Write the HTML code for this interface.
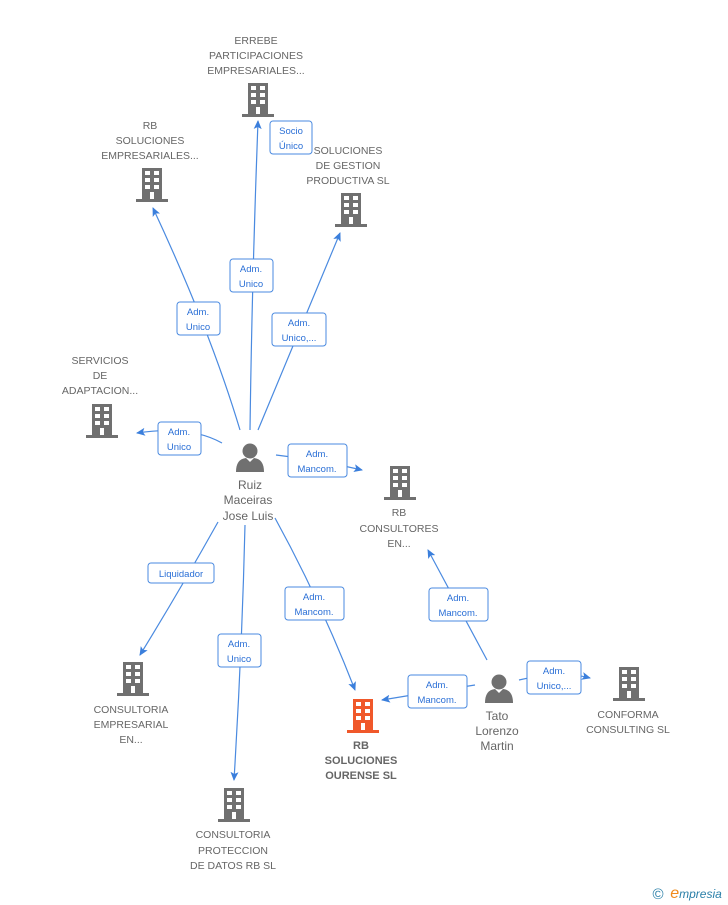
<!DOCTYPE html>
<html><head><meta charset="utf-8"><style>
body{margin:0;background:#fff;width:728px;height:905px;overflow:hidden}
svg{display:block}
text{font-family:"Liberation Sans",sans-serif;font-size:10.5px;fill:#666;text-anchor:middle}
.l{font-size:9.5px;fill:#2a6fd6}
.b{font-weight:bold;font-size:11px}
</style></head><body>
<svg width="728" height="905" viewBox="0 0 728 905">
<defs>
<g id="bld"><rect x="-10" y="-17" width="20" height="31"/><rect x="-16" y="14" width="32" height="3"/></g>
<g id="win" fill="#fff"><rect x="-7" y="-14" width="5" height="4"/><rect x="2" y="-14" width="5" height="4"/><rect x="-7" y="-7" width="5" height="4"/><rect x="2" y="-7" width="5" height="4"/><rect x="-7" y="0" width="5" height="4"/><rect x="2" y="0" width="5" height="4"/><rect x="-2" y="7" width="4" height="7"/></g>
<g id="per" fill="#707070"><circle cx="0" cy="-8" r="7.5"/><path d="M-14 13 Q-14 0 -4 -1 L0 3 L4 -1 Q14 0 14 13 Z"/></g>
<marker id="a" markerWidth="10" markerHeight="10" refX="8" refY="4" orient="auto" markerUnits="userSpaceOnUse"><path d="M0 0 L9 4 L0 8 L2 4Z" fill="#3b7fdc"/></marker>
</defs>
<g stroke="#4a8ae0" stroke-width="1.2" fill="none" marker-end="url(#a)">
<path d="M250 430 Q252 280 258 121"/>
<path d="M240 430 Q210 330 153 208"/>
<path d="M258 430 Q300 330 340 233"/>
<path d="M222 443 Q190 425 137 433"/>
<path d="M276 455 Q320 460 362 470"/>
<path d="M218 522 Q180 590 140 655"/>
<path d="M245 525 Q242 650 234 780"/>
<path d="M275 518 Q320 600 355 690"/>
<path d="M487 660 Q460 610 428 550"/>
<path d="M475 685 Q430 692 382 700"/>
<path d="M519 680 Q560 670 590 678"/>
</g>
<g fill="#fff" stroke="#4a8ae0" stroke-width="1">
<rect x="270" y="121" width="42" height="33" rx="3"/>
<rect x="230" y="259" width="43" height="33" rx="3"/>
<rect x="177" y="302" width="43" height="33" rx="3"/>
<rect x="272" y="313" width="54" height="33" rx="3"/>
<rect x="158" y="422" width="43" height="33" rx="3"/>
<rect x="288" y="444" width="59" height="33" rx="3"/>
<rect x="148" y="563" width="66" height="20" rx="3"/>
<rect x="218" y="634" width="43" height="33" rx="3"/>
<rect x="285" y="587" width="59" height="33" rx="3"/>
<rect x="429" y="588" width="59" height="33" rx="3"/>
<rect x="408" y="675" width="59" height="33" rx="3"/>
<rect x="527" y="661" width="54" height="33" rx="3"/>
</g>
<g class="l">
<text class="l" x="291" y="134">Socio</text><text class="l" x="291" y="149">Único</text>
<text class="l" x="251" y="272">Adm.</text><text class="l" x="251" y="287">Unico</text>
<text class="l" x="198" y="315">Adm.</text><text class="l" x="198" y="330">Unico</text>
<text class="l" x="299" y="326">Adm.</text><text class="l" x="299" y="341">Unico,...</text>
<text class="l" x="179" y="435">Adm.</text><text class="l" x="179" y="450">Unico</text>
<text class="l" x="317" y="457">Adm.</text><text class="l" x="317" y="472">Mancom.</text>
<text class="l" x="181" y="577">Liquidador</text>
<text class="l" x="239" y="647">Adm.</text><text class="l" x="239" y="662">Unico</text>
<text class="l" x="314" y="600">Adm.</text><text class="l" x="314" y="615">Mancom.</text>
<text class="l" x="458" y="601">Adm.</text><text class="l" x="458" y="616">Mancom.</text>
<text class="l" x="437" y="688">Adm.</text><text class="l" x="437" y="703">Mancom.</text>
<text class="l" x="554" y="674">Adm.</text><text class="l" x="554" y="689">Unico,...</text>
</g>
<g fill="#707070">
<use href="#bld" x="258" y="100"/><use href="#bld" x="152" y="185"/><use href="#bld" x="351" y="210"/>
<use href="#bld" x="102" y="421"/><use href="#bld" x="400" y="483"/><use href="#bld" x="133" y="679"/>
<use href="#bld" x="234" y="805"/><use href="#bld" x="629" y="684"/>
<use href="#bld" x="363" y="716" fill="#f0582a"/>
</g>
<use href="#win" x="258" y="100"/><use href="#win" x="152" y="185"/><use href="#win" x="351" y="210"/>
<use href="#win" x="102" y="421"/><use href="#win" x="400" y="483"/><use href="#win" x="133" y="679"/>
<use href="#win" x="234" y="805"/><use href="#win" x="629" y="684"/><use href="#win" x="363" y="716"/>
<use href="#per" x="250" y="459"/><use href="#per" x="499" y="690"/>
<text x="256" y="44">ERREBE</text><text x="256" y="59">PARTICIPACIONES</text><text x="256" y="74">EMPRESARIALES...</text>
<text x="150" y="129">RB</text><text x="150" y="144">SOLUCIONES</text><text x="150" y="159">EMPRESARIALES...</text>
<text x="348" y="154">SOLUCIONES</text><text x="348" y="169">DE GESTION</text><text x="348" y="184">PRODUCTIVA  SL</text>
<text x="100" y="364">SERVICIOS</text><text x="100" y="379">DE</text><text x="100" y="394">ADAPTACION...</text>
<text x="399" y="516">RB</text><text x="399" y="532">CONSULTORES</text><text x="399" y="547">EN...</text>
<text x="131" y="713">CONSULTORIA</text><text x="131" y="728">EMPRESARIAL</text><text x="131" y="743">EN...</text>
<text x="233" y="838">CONSULTORIA</text><text x="233" y="854">PROTECCION</text><text x="233" y="869">DE DATOS RB SL</text>
<text x="628" y="718">CONFORMA</text><text x="628" y="733">CONSULTING SL</text>
<text class="b" x="361" y="749">RB</text><text class="b" x="361" y="764">SOLUCIONES</text><text class="b" x="361" y="779">OURENSE SL</text>
<text x="250" y="489" style="font-size:12px">Ruiz</text><text x="248" y="504" style="font-size:12px">Maceiras</text><text x="248" y="520" style="font-size:12px">Jose Luis</text>
<text x="497" y="720" style="font-size:12px">Tato</text><text x="497" y="735" style="font-size:12px">Lorenzo</text><text x="497" y="750" style="font-size:12px">Martin</text>
<text x="658" y="899" style="font-size:15px;fill:#2a7fa8">©</text>
<text x="696" y="898" style="font-size:12px;fill:#2a7fa8;font-style:italic"><tspan style="fill:#f08a1c;font-size:16px">e</tspan>mpresia</text>
</svg>
</body></html>
